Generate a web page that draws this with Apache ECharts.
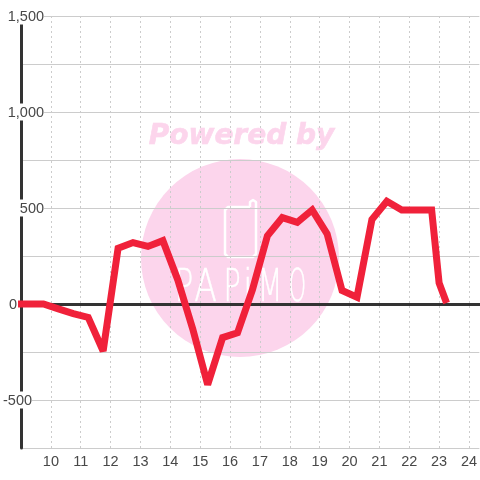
<!DOCTYPE html>
<html><head><meta charset="utf-8">
<style>html,body{margin:0;padding:0;background:#fff}#c{width:480px;height:480px}</style>
<script src="https://cdn.jsdelivr.net/npm/echarts@6/dist/echarts.min.js"></script>
</head><body><div id="c"></div>
<script>
const hours = [8.9,9.75,10.25,10.75,11.25,11.75,12.25,12.75,13.25,13.75,14.25,14.75,15.25,15.75,16.25,16.75,17.25,17.75,18.25,18.75,19.25,19.75,20.25,20.75,21.25,21.75,22.25,22.75,23,23.25];
const values = [0,0,-25,-50,-70,-245,290,320,300,330,125,-130,-420,-175,-150,75,355,450,425,490,365,70,35,440,535,490,490,490,110,5];
const yLabels = {'1500':'1,500','1000':'1,000','500':'500','0':'0','-500':'-500'};
const spacers = {'1500':'s0','1000':'s0','500':'s1','0':'s3','-500':'s2'};
const logoLetters = [['P',184,0.7],['A',205.5,0.75],['P',232,0.65],['i',248,0.8],['M',270,0.65],['O',297.5,0.5]];
const pts = hours.map((h,i)=>[h,values[i]]);
const chart = echarts.init(document.getElementById('c'),null,{renderer:'canvas'});
const pink='#fcd5ec';
const labelFont={fontFamily:'Liberation Sans',fontSize:14.5,color:'#484848'};
chart.setOption({
  animation:false,
  backgroundColor:'#fff',
  grid:{left:19.6,right:0,top:16,bottom:32,containLabel:false},
  graphic:[
    {type:'circle',z:-10,shape:{cx:240,cy:258,r:99},style:{fill:pink}},
    {type:'text',z:-10,style:{x:241.5,y:136.5,text:'Powered by',align:'center',verticalAlign:'middle',fill:pink,stroke:pink,lineWidth:0.6,font:'italic bold 28px "DejaVu Sans"'}},
    {type:'polyline',z:-9,shape:{points:[[250,207],[250,202],[253,200],[256,202],[256,254],[253,257],[228,257],[225,254],[225,210],[228,207],[250,207]]},style:{fill:'none',stroke:'#fff',lineWidth:2.5,lineJoin:'round'}},
    ...logoLetters.map(([ch,x,s])=>({type:'text',z:-9,x:x,y:290,scaleX:s,style:{x:0,y:0,text:ch,align:'center',verticalAlign:'middle',fill:'#fff',stroke:'#fff',lineWidth:0.5,font:'44px "DejaVu Sans ExtraLight","DejaVu Sans Light","DejaVu Sans"'}}))
  ],
  xAxis:[{
    type:'value',min:9,max:24.347,interval:1,position:'bottom',
    axisLine:{show:false,onZero:false},axisTick:{show:false},
    axisLabel:{...labelFont,margin:6,showMinLabel:false,showMaxLabel:false,hideOverlap:false},
    splitLine:{show:true,showMinLine:false,showMaxLine:false,lineStyle:{color:'#ccc',type:[2,3],width:1}}
  },{
    type:'value',min:9,max:24.347,interval:1,
    axisLine:{show:true,onZero:true,lineStyle:{color:'#333',width:3}},
    axisTick:{show:false},axisLabel:{show:false},splitLine:{show:false}
  }],
  yAxis:{
    type:'value',min:-750,max:1500,interval:250,
    axisLine:{show:true,onZero:false,lineStyle:{color:'#333',width:3}},
    axisTick:{show:false},
    axisLabel:{
      margin:-23,align:'right',hideOverlap:false,
      formatter:v=>yLabels[v]?`{t|${yLabels[v]}}{${spacers[v]}|}`:'',
      rich:{
        t:{...labelFont,backgroundColor:'#fff',lineHeight:17,padding:[2,0,0,0]},
        s0:{width:0},s1:{width:0},s2:{width:12},s3:{width:27}
      }
    },
    splitLine:{show:true,lineStyle:{color:'#ccc',width:1}}
  },
  series:[{
    type:'line',data:pts,showSymbol:false,symbol:'none',clip:false,smooth:false,
    lineStyle:{color:'#f0213a',width:7,join:'miter',miterLimit:2.5,cap:'butt'},z:5
  }]
});
</script></body></html>
